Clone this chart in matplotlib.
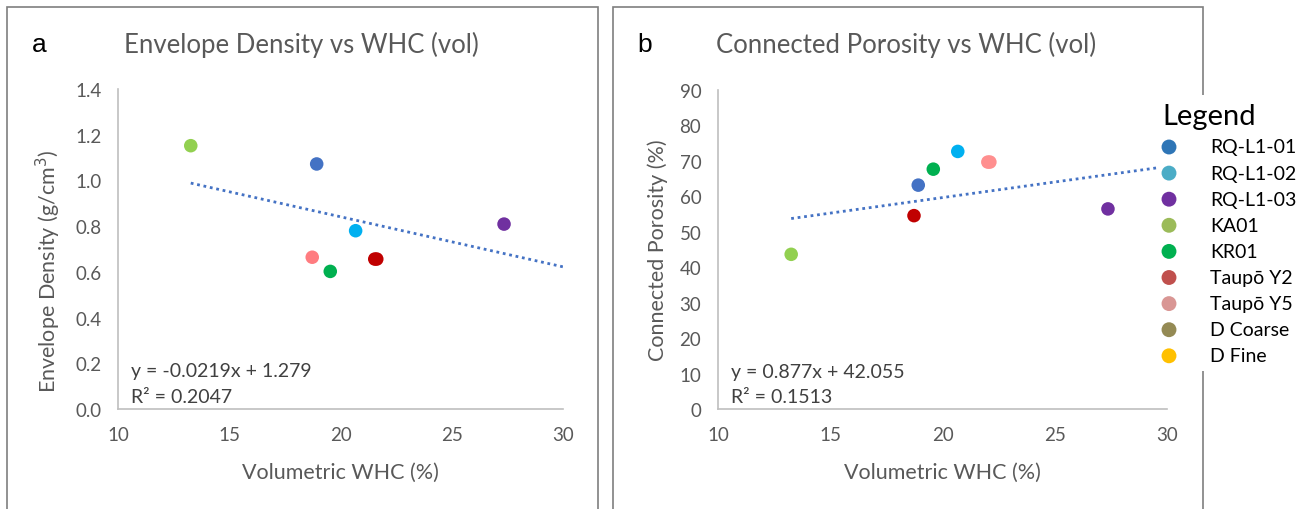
import matplotlib
matplotlib.use("Agg")
import matplotlib.pyplot as plt
from matplotlib.patches import Rectangle

# ---- data ---------------------------------------------------------------
# Panel a: envelope density against volumetric water holding capacity
whc_a = [18.93, 20.68, 27.35, 13.27, 19.54, 21.54, 21.63, 18.73]
density = [1.072, 0.780, 0.809, 1.152, 0.602, 0.656, 0.656, 0.664]
colors_a = ["#4472C4", "#00B0F0", "#7030A0", "#92D050", "#00B050",
            "#C00000", "#C00000", "#FF7C80"]

# Panel b: connected porosity against volumetric water holding capacity
whc_b = [18.92, 20.68, 27.37, 13.26, 19.59, 18.73, 22.02, 22.11]
porosity = [63.1, 72.6, 56.4, 43.6, 67.6, 54.5, 69.6, 69.6]
colors_b = ["#4472C4", "#00B0F0", "#7030A0", "#92D050", "#00B050",
            "#C00000", "#FF8F8F", "#FF8F8F"]

# Linear trendlines (slope, intercept, R^2)
fit_a = (-0.0219, 1.279, 0.2047)
fit_b = (0.877, 42.055, 0.1513)

x_ticks = [10, 15, 20, 25, 30]
y_ticks_a = [0.0, 0.2, 0.4, 0.6, 0.8, 1.0, 1.2, 1.4]
y_ticks_b = [0, 10, 20, 30, 40, 50, 60, 70, 80, 90]

legend_names = ["RQ-L1-01", "RQ-L1-02", "RQ-L1-03", "KA01", "KR01",
                "Taupō Y2", "Taupō Y5", "D Coarse", "D Fine"]
legend_colors = ["#2E75B6", "#4BACC6", "#7030A0", "#9BBB59", "#00B050",
                 "#C0504D", "#D99694", "#948A54", "#FFC000"]

# ---- figure -------------------------------------------------------------
W, H = 1306, 510
fig = plt.figure(figsize=(W / 100, H / 100), dpi=100)
fig.patch.set_facecolor("white")

FONT = "Lato"
GREY = "#595959"


def box(px0, py0, px1, py1):
    """Figure-fraction rectangle from pixel corners (top-left origin)."""
    return [px0 / W, 1 - py1 / H, (px1 - px0) / W, (py1 - py0) / H]


# panel frames
for x0, x1 in [(7, 598), (613, 1203)]:
    fig.add_artist(Rectangle((x0 / W, -0.05), (x1 - x0) / W, 1.05 - 8 / H,
                             transform=fig.transFigure, fill=False,
                             ec="#7F7F7F", lw=1.2, zorder=0))


def panel(rect, xs, ys, cols, fit, yticks, yfmt, ylabel, ylab_pos,
          title, title_x):
    ax = fig.add_axes(rect)
    ax.scatter(xs, ys, c=cols, s=95, edgecolors="none", zorder=3)
    slope, icpt, r2 = fit
    xl = [min(xs), x_ticks[-1]]
    ax.plot(xl, [slope * v + icpt for v in xl], color="#4472C4", lw=2.0,
            linestyle=(0, (1.0, 1.35)), zorder=2)
    ax.set_xlim(x_ticks[0], x_ticks[-1])
    ax.set_ylim(yticks[0], yticks[-1])
    ax.set_xticks(x_ticks)
    ax.set_yticks(yticks)
    ax.set_yticklabels([yfmt.format(v) for v in yticks])
    for s in ("top", "right"):
        ax.spines[s].set_visible(False)
    for s in ("left", "bottom"):
        ax.spines[s].set_color("#BFBFBF")
        ax.spines[s].set_linewidth(1.2)
    ax.tick_params(length=0, labelcolor=GREY, labelsize=13.5)
    ax.tick_params(axis="y", pad=12)
    ax.tick_params(axis="x", pad=12)
    for lab in ax.get_xticklabels() + ax.get_yticklabels():
        lab.set_fontfamily(FONT)
    ax.set_xlabel("Volumetric WHC (%)", fontsize=15.5, color=GREY,
                  fontfamily=FONT, va="center")
    ax.xaxis.set_label_coords(0.499, -0.197)
    ax.set_ylabel(ylabel, fontsize=15.5, color=GREY, fontfamily=FONT,
                  va="center")
    ax.yaxis.set_label_coords(*ylab_pos)
    ax.text(0.03, 0.119, f"y = {slope:g}x + {icpt:g}", transform=ax.transAxes,
            fontsize=14, color="#404040", fontfamily=FONT, va="center")
    ax.text(0.03, 0.040, f"R² = {r2:.4f}", transform=ax.transAxes,
            fontsize=14, color="#404040", fontfamily=FONT, va="center")
    fig.text(title_x / W, 1 - 44.5 / H, title, fontsize=18.5, color=GREY,
             fontfamily=FONT, ha="center", va="center")
    return ax


panel(box(118, 90, 563, 410), whc_a, density, colors_a, fit_a, y_ticks_a,
      "{:.1f}", "Envelope Density (g/cm$^3$)", (-0.157, 0.434),
      "Envelope Density vs WHC (vol)", 301.5)
panel(box(718, 90.7, 1167, 410), whc_b, porosity, colors_b, fit_b, y_ticks_b,
      "{:.0f}", "Connected Porosity (%)", (-0.134, 0.50),
      "Connected Porosity vs WHC (vol)", 906)

# panel letters
for letter, px in [("a", 39), ("b", 645)]:
    fig.text(px / W, 1 - 45 / H, letter, fontsize=19, color="black",
             fontfamily="Liberation Sans", ha="center", va="center")

# ---- legend -------------------------------------------------------------
lax = fig.add_axes(box(1158, 96, 1306, 372))
lax.set_xlim(1158, 1306)
lax.set_ylim(372, 96)
lax.set_facecolor("white")
lax.set_xticks([])
lax.set_yticks([])
for s in lax.spines.values():
    s.set_visible(False)
lax.set_zorder(5)
lax.text(1162, 117, "Legend", fontsize=21, color="black", fontfamily=FONT,
         ha="left", va="center")
row0, step = 148, 26.1
for i, (name, col) in enumerate(zip(legend_names, legend_colors)):
    yy = row0 + i * step
    lax.scatter([1169], [yy], s=115, color=col, edgecolors="none")
    lax.text(1210, yy, name, fontsize=14, color="black", fontfamily=FONT,
             ha="left", va="center")

fig.savefig("out.png", dpi=100)
